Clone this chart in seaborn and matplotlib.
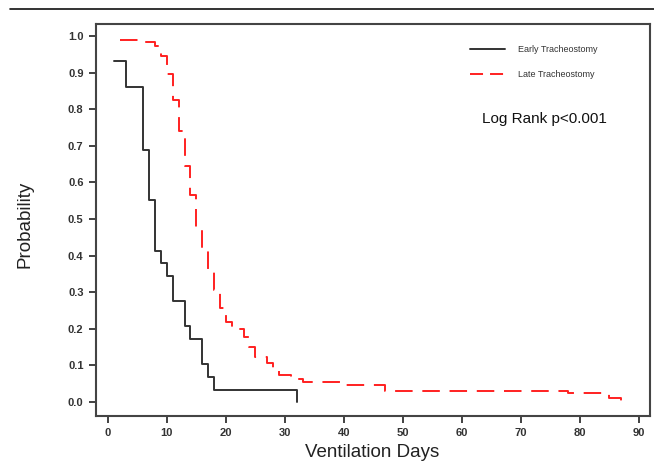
import numpy as np
import pandas as pd
import matplotlib
matplotlib.use("Agg")
import matplotlib.pyplot as plt
from matplotlib.lines import Line2D
import seaborn as sns

# Kaplan-Meier steps
early_days = [1, 3, 6, 7, 8, 9, 10, 11, 13, 14, 16, 17, 18, 32]
early_prob = [0.931, 0.862, 0.690, 0.552, 0.414, 0.379, 0.345, 0.276,
              0.207, 0.172, 0.103, 0.069, 0.034, 0.0]

late_days = [2, 6, 8, 9, 10, 11, 12, 13, 14, 15, 16, 17, 18, 19, 20, 21,
             23, 24, 25, 27, 28, 29, 31, 33, 40, 47, 78, 85, 87]
late_prob = [0.99, 0.983, 0.973, 0.945, 0.896, 0.825, 0.74, 0.645, 0.565,
             0.475, 0.415, 0.356, 0.306, 0.256, 0.219, 0.201, 0.178, 0.151,
             0.124, 0.106, 0.087, 0.074, 0.063, 0.055, 0.048, 0.030, 0.024,
             0.010, 0.0]

groups = ["Early Tracheostomy", "Late Tracheostomy"]
x_ticks = list(range(0, 91, 10))
y_ticks = [round(v * 0.1, 1) for v in range(11)]

df = pd.concat([
    pd.DataFrame({"days": early_days, "prob": early_prob, "group": groups[0]}),
    pd.DataFrame({"days": late_days, "prob": late_prob, "group": groups[1]}),
])

sns.set_style("white")
plt.rcParams["font.family"] = ["Liberation Sans", "DejaVu Sans"]

fig = plt.figure(figsize=(6.54, 4.66), dpi=100)
ax = fig.add_axes([0.1468, 0.1073, 0.8471, 0.8412])

palette = {groups[0]: "#333333", groups[1]: "#ff2020"}
dashes = {groups[0]: "", groups[1]: (9, 5)}
sns.lineplot(data=df, x="days", y="prob", hue="group", style="group",
             palette=palette, dashes=dashes, estimator=None, sort=False,
             drawstyle="steps-post", linewidth=1.4, legend=False, ax=ax)

ax.set_xlim(-2.0, 91.9)
ax.set_ylim(-0.038, 1.033)
ax.set_xticks(x_ticks)
ax.set_yticks(y_ticks)
ax.set_xticklabels([str(t) for t in x_ticks])
ax.set_yticklabels([f"{t:.1f}" for t in y_ticks])
ax.tick_params(direction="out", length=5, width=1.3, color="#333333",
               labelsize=8, labelcolor="#333333", left=True, bottom=True, pad=4)
for lab in ax.get_xticklabels() + ax.get_yticklabels():
    lab.set_fontweight("bold")
for sp in ax.spines.values():
    sp.set_color("#444444")
    sp.set_linewidth(1.5)

ax.set_xlabel("Ventilation Days", fontsize=13.5, color="#222222", va="center")
ax.set_ylabel("Probability", fontsize=13.5, color="#222222", va="center")
ax.xaxis.set_label_coords(0.498, -0.094)
ax.yaxis.set_label_coords(-0.128, 0.49)

handles = [Line2D([], [], color="#333333", lw=1.4),
           Line2D([], [], color="#ff2020", lw=1.4, dashes=(6.7, 3.6))]
leg = ax.legend(handles, groups, loc="upper left", bbox_to_anchor=(0.66, 0.967),
                frameon=False, fontsize=6.5, handlelength=3.9, handletextpad=1.4,
                labelspacing=1.75)
for t in leg.get_texts():
    t.set_color("#333333")

ax.text(0.697, 0.758, "Log Rank p<0.001", transform=ax.transAxes,
        fontsize=11, color="#111111", va="center")

# rule across the top of the figure
fig.add_artist(Line2D([10 / 654, 1.0], [1 - 9 / 466, 1 - 9 / 466],
                      color="#111111", lw=1.2, transform=fig.transFigure))

fig.savefig("out.png", dpi=100)
